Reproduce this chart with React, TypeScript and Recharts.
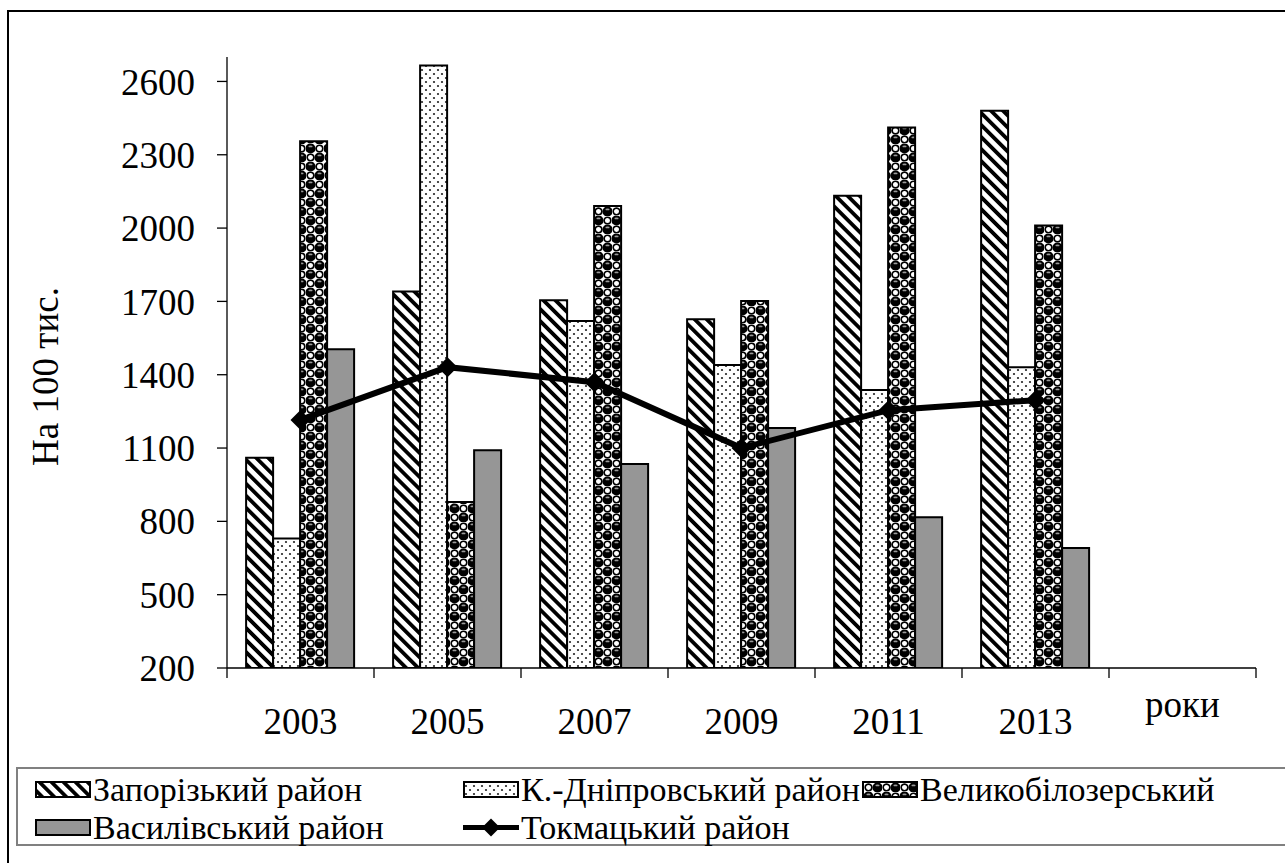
import React from 'react';
import { ComposedChart, Bar, Line, XAxis, YAxis, Legend, Label } from 'recharts';

const categories = ['2003', '2005', '2007', '2009', '2011', '2013', 'роки'];
const zaporizkyi = [1060, 1740, 1705, 1627, 2132, 2480, null];
const kDniprovskyi = [730, 2665, 1620, 1440, 1337, 1431, null];
const velykobilozerskyi = [2355, 879, 2090, 1702, 2412, 2011, null];
const vasylivskyi = [1504, 1091, 1035, 1182, 817, 691, null];
const tokmatskyi = [1215, 1431, 1369, 1100, 1255, 1296, null];
const yTicks = [200, 500, 800, 1100, 1400, 1700, 2000, 2300, 2600];
const yDomain = [200, 2700];

const names = {
  zap: 'Запорізький район',
  kd: 'К.-Дніпровський район',
  vel: 'Великобілозерський',
  vas: 'Василівський район',
  tok: 'Токмацький район',
};

const data = categories.map((c, i) => ({
  year: c,
  zap: zaporizkyi[i],
  kd: kDniprovskyi[i],
  vel: velykobilozerskyi[i],
  vas: vasylivskyi[i],
  tok: tokmatskyi[i],
}));

const FONT = "'Liberation Serif', 'Times New Roman', serif";
const TICK_SIZE = 10;
const AXIS_FONT = 37;
const LEGEND_FONT = 34;

const XTick = (props: any) => {
  const { x, y, payload, index, visibleTicksCount, width } = props;
  const band = width / visibleTicksCount;
  const axisY = y - TICK_SIZE;
  const isLast = index === visibleTicksCount - 1;
  const isUnit = payload.value === 'роки';
  return (
    <g>
      <line x1={x - band / 2} x2={x - band / 2} y1={axisY} y2={axisY + TICK_SIZE} stroke="#000" strokeWidth={1.3} />
      {isLast && (
        <line x1={x + band / 2} x2={x + band / 2} y1={axisY} y2={axisY + TICK_SIZE} stroke="#000" strokeWidth={1.3} />
      )}
      <text x={x} y={isUnit ? y + 39 : y + 56} textAnchor="middle" fontSize={AXIS_FONT} fontFamily={FONT} fill="#000">
        {payload.value}
      </text>
    </g>
  );
};

const Diamond = (p: any) => {
  const { cx, cy } = p;
  if (cx == null || cy == null || p.value == null) return null;
  const r = 10;
  return <polygon key={`d${p.index}`} points={`${cx},${cy - r} ${cx + r},${cy} ${cx},${cy + r} ${cx - r},${cy}`} fill="#000" />;
};

const legendItems = [
  { key: 'zap', fill: 'url(#pZap)', left: 35, row: 0, line: false },
  { key: 'kd', fill: 'url(#pKd)', left: 463, row: 0, line: false },
  { key: 'vel', fill: 'url(#pVel)', left: 862, row: 0, line: false },
  { key: 'vas', fill: '#969696', left: 35, row: 1, line: false },
  { key: 'tok', fill: '#000', left: 463, row: 1, line: true },
];
const ROW_CENTER = [789.5, 827.5];

const LegendContent = () => (
  <svg width={1285} height={863} style={{ position: 'absolute', left: 0, top: 0, overflow: 'visible', pointerEvents: 'none' }}>
    <rect x={17} y={768} width={1290} height={77} fill="#fff" stroke="#808080" strokeWidth={2} />
    {legendItems.map((it) => {
      const cy = ROW_CENTER[it.row];
      return (
        <g key={it.key}>
          {it.line ? (
            <g>
              <line x1={it.left} x2={it.left + 56} y1={cy} y2={cy} stroke="#000" strokeWidth={5} />
              <polygon
                points={`${it.left + 28},${cy - 9} ${it.left + 37},${cy} ${it.left + 28},${cy + 9} ${it.left + 19},${cy}`}
                fill="#000"
              />
            </g>
          ) : (
            <rect x={it.left + 1} y={cy - 7.5} width={54} height={15} fill={it.fill} stroke="#000" strokeWidth={2} />
          )}
          <text x={it.left + 58} y={cy + 11} fontSize={LEGEND_FONT} fontFamily={FONT} fill="#000">
            {(names as any)[it.key]}
          </text>
        </g>
      );
    })}
  </svg>
);

export default function App() {
  return (
    <div style={{ position: 'absolute', left: 0, top: 0, width: 1285, height: 863, overflow: 'hidden', background: '#fff' }}>
      <div
        style={{
          position: 'absolute',
          left: 7,
          top: 10,
          width: 1320,
          height: 900,
          border: '2px solid #000',
          boxSizing: 'border-box',
        }}
      />
      <div style={{ position: 'absolute', left: 0, top: 0 }}>
        <ComposedChart
          width={1285}
          height={863}
          data={data}
          margin={{ top: 57, right: 29, bottom: 135, left: 0 }}
          barCategoryGap="13%"
          barGap={0}
        >
          <defs>
            <pattern id="pZap" patternUnits="userSpaceOnUse" width={8.5} height={8.5} patternTransform="rotate(-45)">
              <rect x={0} y={0} width={8.5} height={8.5} fill="#fff" />
              <rect x={0} y={0} width={3.8} height={8.5} fill="#000" />
            </pattern>
            <pattern id="pKd" patternUnits="userSpaceOnUse" width={8} height={8}>
              <rect x={0} y={0} width={8} height={8} fill="#fff" />
              <circle cx={2} cy={2} r={1.1} fill="#222" />
              <circle cx={6} cy={6} r={1.1} fill="#222" />
            </pattern>
            <pattern id="pVel" patternUnits="userSpaceOnUse" width={18} height={18}>
              <rect x={0} y={0} width={18} height={18} fill="#fff" />
              <circle cx={4.5} cy={4.5} r={5.1} fill="#000" />
              <circle cx={13.5} cy={13.5} r={5.1} fill="#000" />
              <ellipse cx={4.5} cy={2.4} rx={2.1} ry={0.9} fill="#999" />
              <ellipse cx={13.5} cy={11.4} rx={2.1} ry={0.9} fill="#999" />
              <circle cx={13.5} cy={4.5} r={3.3} fill="none" stroke="#000" strokeWidth={1.6} />
              <circle cx={4.5} cy={13.5} r={3.3} fill="none" stroke="#000" strokeWidth={1.6} />
            </pattern>
          </defs>
          <XAxis
            dataKey="year"
            type="category"
            interval={0}
            axisLine={{ stroke: '#000', strokeWidth: 1.3 }}
            tickLine={false}
            tickSize={TICK_SIZE}
            tickMargin={0}
            height={60}
            tick={<XTick />}
          />
          <YAxis
            type="number"
            domain={yDomain}
            ticks={yTicks}
            interval={0}
            width={227}
            allowDataOverflow
            axisLine={{ stroke: '#000', strokeWidth: 1.3 }}
            tickLine={{ stroke: '#000', strokeWidth: 1.3 }}
            tickSize={TICK_SIZE}
            tickMargin={22}
            tick={{ fill: '#000', fontSize: AXIS_FONT, fontFamily: FONT }}
          >
            <Label
              content={(p: any) => {
                const vb = p.viewBox || { x: 0, y: 57, width: 227, height: 611 };
                const cx = vb.x + 45;
                const cy = vb.y + vb.height / 2 + 14;
                return (
                  <text
                    x={cx}
                    y={cy}
                    transform={`rotate(-90, ${cx}, ${cy})`}
                    textAnchor="middle"
                    dominantBaseline="central"
                    fontSize={AXIS_FONT}
                    fontFamily={FONT}
                    fill="#000"
                  >
                    На 100 тис.
                  </text>
                );
              }}
            />
          </YAxis>
          <Bar dataKey="zap" name={names.zap} fill="url(#pZap)" stroke="#000" strokeWidth={2} isAnimationActive={false} />
          <Bar dataKey="kd" name={names.kd} fill="url(#pKd)" stroke="#000" strokeWidth={2} isAnimationActive={false} />
          <Bar dataKey="vel" name={names.vel} fill="url(#pVel)" stroke="#000" strokeWidth={2} isAnimationActive={false} />
          <Bar dataKey="vas" name={names.vas} fill="#969696" stroke="#000" strokeWidth={2} isAnimationActive={false} />
          <Line
            dataKey="tok"
            name={names.tok}
            stroke="#000"
            strokeWidth={6}
            dot={<Diamond />}
            activeDot={false}
            isAnimationActive={false}
          />
          <Legend
            verticalAlign="bottom"
            content={<LegendContent />}
            wrapperStyle={{ left: 0, top: 0, bottom: 'auto', width: 0, height: 0 }}
          />
        </ComposedChart>
      </div>
    </div>
  );
}
